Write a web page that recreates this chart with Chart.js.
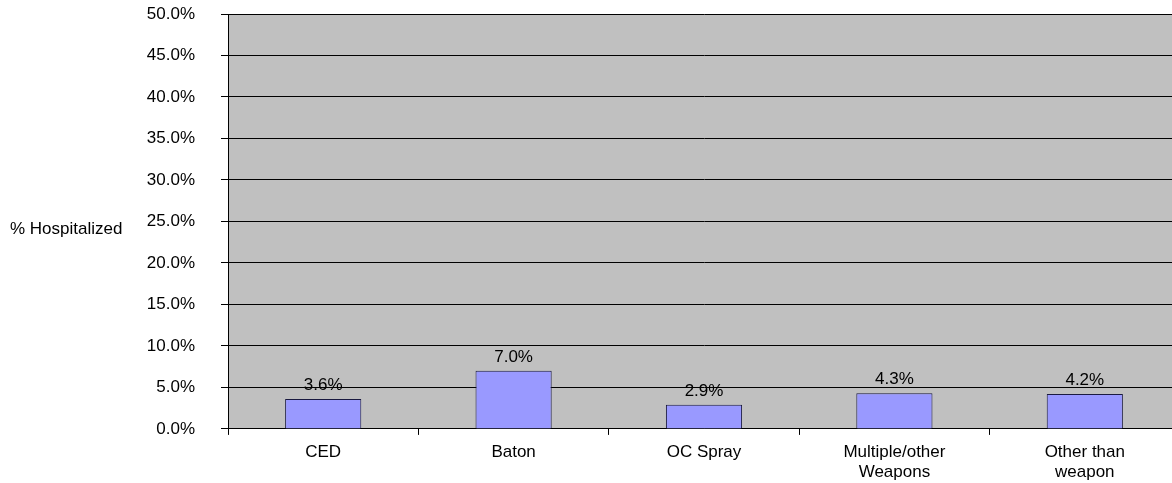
<!DOCTYPE html>
<html>
<head>
<meta charset="utf-8">
<script src="https://cdn.jsdelivr.net/npm/chart.js@4/dist/chart.umd.min.js"></script>
<style>
  html, body { margin: 0; padding: 0; background: #fff; overflow: hidden; }
  #wrap { width: 1180px; height: 483px; }
</style>
</head>
<body>
<div id="wrap"><canvas id="chart" width="1180" height="483"></canvas></div>
<script>
// --- Data ---
const categories = ['CED', 'Baton', 'OC Spray', ['Multiple/other', 'Weapons'], ['Other than', 'weapon']];
const hospitalized = [3.6, 7.0, 2.9, 4.3, 4.2];
const yTicks = { min: 0, max: 50, step: 5 };
const yTitle = '% Hospitalized';

const FONT = "'Liberation Sans', Arial, sans-serif";
const SIZE = 17;

// gray plot area + labels drawn by hand
const extras = {
    id: 'extras',
    beforeDraw(chart) {
        const { ctx, chartArea: a } = chart;
        ctx.save();
        ctx.fillStyle = '#C0C0C0';
        ctx.fillRect(a.left, a.top, a.right - a.left, a.bottom - a.top);
        ctx.restore();
    },
    afterDatasetsDraw(chart) {
        const { ctx, chartArea: a } = chart;
        ctx.save();
        ctx.font = SIZE + 'px ' + FONT;
        ctx.fillStyle = '#000';
        ctx.textAlign = 'center';
        ctx.textBaseline = 'alphabetic';
        chart.getDatasetMeta(0).data.forEach((bar, i) => {
            ctx.fillText(hospitalized[i].toFixed(1) + '%', bar.x, bar.y - 9);
        });
        ctx.textAlign = 'left';
        ctx.textBaseline = 'middle';
        ctx.fillText(yTitle, 10, 229);
        ctx.restore();
    }
};

new Chart(document.getElementById('chart').getContext('2d'), {
    type: 'bar',
    data: {
        labels: categories,
        datasets: [{
            data: hospitalized,
            backgroundColor: '#9999FF',
            borderColor: '#1a1a40',
            borderWidth: 1,
            barPercentage: 0.4,
            categoryPercentage: 1.0
        }]
    },
    options: {
        responsive: false,
        devicePixelRatio: 1,
        animation: false,
        layout: { padding: { top: 0, right: 0, bottom: -7, left: 0 } },
        plugins: { legend: { display: false }, tooltip: { enabled: false } },
        scales: {
            x: {
                grid: { drawOnChartArea: false, color: '#000', tickLength: 6, offset: true },
                border: { color: '#000' },
                ticks: { color: '#000', font: { family: FONT, size: SIZE, lineHeight: 1.15 }, maxRotation: 0, padding: 8 }
            },
            y: {
                min: yTicks.min,
                max: yTicks.max,
                afterFit(scale) {
                    scale.width = 228;
                    scale.paddingTop = 14;
                    scale.paddingBottom = 0;
                },
                grid: { color: '#000', lineWidth: 1, tickLength: 7 },
                border: { color: '#000' },
                ticks: {
                    stepSize: yTicks.step,
                    color: '#000',
                    padding: 26,
                    font: { family: FONT, size: SIZE },
                    callback: v => v.toFixed(1) + '%'
                }
            }
        }
    },
    plugins: [extras]
});
</script>
</body>
</html>
